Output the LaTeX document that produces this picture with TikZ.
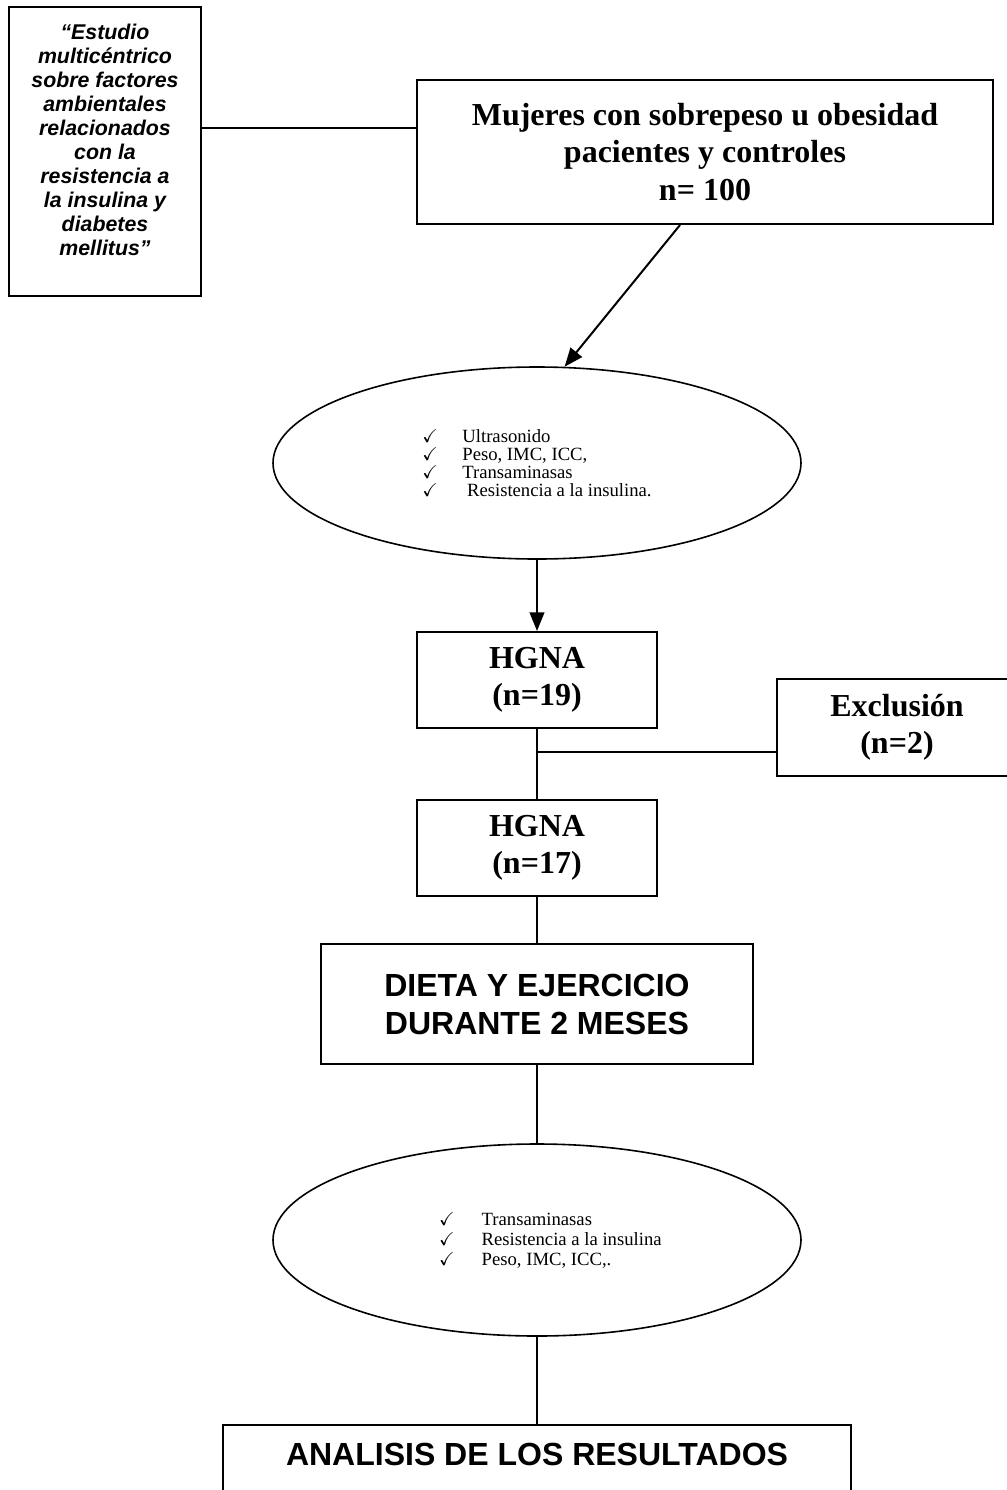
\documentclass[tikz,border=0pt]{standalone}
\usepackage{amsmath, amssymb}
\usepackage{fontspec}
\setmainfont{Liberation Serif}
\setsansfont{Liberation Sans}
\usetikzlibrary{shapes.geometric,arrows.meta}

\newcommand{\chkitem}[1][30pt]{\makebox[#1][l]{$\checkmark$}}

\begin{document}
\begin{tikzpicture}[x=0.75pt, y=-0.75pt, line width=1.5pt,
	box/.style={draw, rectangle, align=center, inner sep=0pt},
	oval/.style={draw, ellipse, inner sep=0pt, line width=1.2pt, minimum width=396pt, minimum height=144pt, align=left},
	big/.style={font=\fontsize{24}{28}\selectfont\bfseries},
	bigsans/.style={font=\fontsize{24}{28.5}\selectfont\sffamily\bfseries},
	arr/.style={-{Triangle[length=14pt,width=11pt]}}]
			\useasboundingbox (0,0) rectangle (1007,1490);
			\clip (0,0) rectangle (1007,1490);
			\node [box, minimum width=144pt, minimum height=216.75pt, font=\fontsize{16}{18}\selectfont\sffamily\bfseries\itshape] (study) at (105,151.5) {“Estudio\\multicéntrico\\sobre factores\\ambientales\\relacionados\\con la\\resistencia a\\la insulina y\\diabetes\\mellitus”\\ \mbox{}};
			\node [box, big, minimum width=432pt, minimum height=108pt] (women) at (705,152) {Mujeres con sobrepeso u obesidad\\pacientes y controles\\n= 100};
			\node [oval, font=\fontsize{14}{13.5}\selectfont] (eval1) at (537,463) {\chkitem Ultrasonido\\\chkitem Peso, IMC, ICC,\\\chkitem Transaminasas\\\chkitem\ Resistencia a la insulina.};
			\node [box, big, minimum width=180pt, minimum height=72pt] (hgna1) at (537,680) {HGNA\\(n=19)};
			\node [box, big, minimum width=180pt, minimum height=72.75pt] (excl) at (897,727.5) {Exclusión\\(n=2)};
			\node [box, big, minimum width=180pt, minimum height=72pt] (hgna2) at (537,848) {HGNA\\(n=17)};
			\node [box, bigsans, minimum width=324pt, minimum height=90pt] (diet) at (537,1004) {DIETA Y EJERCICIO\\DURANTE 2 MESES};
			\node [oval, font=\fontsize{14}{15}\selectfont] (eval2) at (537,1240) {\hspace*{20pt}\chkitem[32pt]Transaminasas\\\hspace*{20pt}\chkitem[32pt]Resistencia a la insulina\\\hspace*{20pt}\chkitem[32pt]Peso, IMC, ICC,.};
			\node [box, bigsans, anchor=north, minimum width=471pt, inner ysep=8pt, text height=22pt, text depth=40pt] (result) at (537,1424) {ANALISIS DE LOS RESULTADOS};
			\coordinate (lnk) at (0,128);
			\coordinate (split) at (537,752);
			\draw (study.east |- lnk) -- (women.west |- lnk);
			\draw [arr] ([xshift=-18.75pt]women.south) -- (eval1.74);
			\draw [arr] (eval1.south) -- (hgna1.north);
			\draw (hgna1.south) -- (hgna2.north);
			\draw (split) -- (excl.west |- split);
			\draw (hgna2.south) -- (diet.north);
			\draw (diet.south) -- (eval2.north);
			\draw (eval2.south) -- (result.north);
\end{tikzpicture}
\end{document}
